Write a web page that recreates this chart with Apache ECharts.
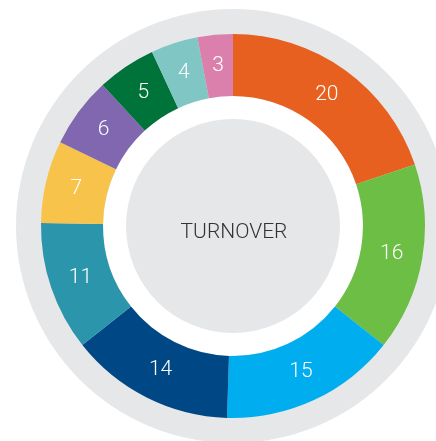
<!DOCTYPE html>
<html><head><meta charset="utf-8">
<script src="https://cdn.jsdelivr.net/npm/echarts@6/dist/echarts.min.js"></script>
<style>html,body{margin:0;padding:0;background:#fff}#c{width:436px;height:441px}</style>
</head><body><div id="c"></div>
<script>
const categories = ['A','B','C','D','E','F','G','H','I','J'];
const values = [20,16,15,14,11,7,6,5,4,3];
const colors = ['#E8601F','#6CBE45','#00AEEF','#004885','#2A95AB','#F7C34A','#8067AF','#00733A','#80C6C5','#DB80AD'];
const centerLabel = 'TURNOVER';

const chart = echarts.init(document.getElementById('c'), null, {renderer:'canvas'});
const C = [233, 226];
function disc(r0, r1, color, z){
  return {type:'pie', silent:true, z:z, center:C, radius:[r0,r1], label:{show:false}, labelLine:{show:false},
    itemStyle:{color:color, borderWidth:0}, emphasis:{disabled:true}, animation:false,
    data:[{value:1}]};
}
chart.setOption({
  animation:false,
  series:[
    disc(0, 217, '#E6E7E9', 1),
    disc(0, 130, '#FFFFFF', 2),
    disc(0, 107, '#E6E7E9', 3),
    {
      type:'pie', z:4, center:C, radius:[130,192], startAngle:90, clockwise:true,
      avoidLabelOverlap:false, animation:false,
      itemStyle:{borderWidth:0},
      label:{show:false},
      labelLine:{show:false},
      emphasis:{disabled:true},
      data: values.map((v,i)=>({name:categories[i], value:v, itemStyle:{color:colors[i]}}))
    },
    {
      type:'pie', z:5, silent:true, center:C, radius:[127,189], startAngle:90, clockwise:true,
      avoidLabelOverlap:false, animation:false,
      itemStyle:{color:'rgba(0,0,0,0)', borderWidth:0},
      label:{show:true, position:'inside', formatter:'{c}', color:'#fff', fontFamily:'Roboto', fontWeight:300, fontSize:21},
      labelLine:{show:false},
      emphasis:{disabled:true},
      data: values.map((v,i)=>({name:categories[i], value:v}))
    }
  ],
  graphic:[{type:'text', z:10, x:234, y:233, style:{text:centerLabel, fill:'#333', font:'300 21px Roboto', align:'center', verticalAlign:'middle'}}]
});
</script></body></html>
